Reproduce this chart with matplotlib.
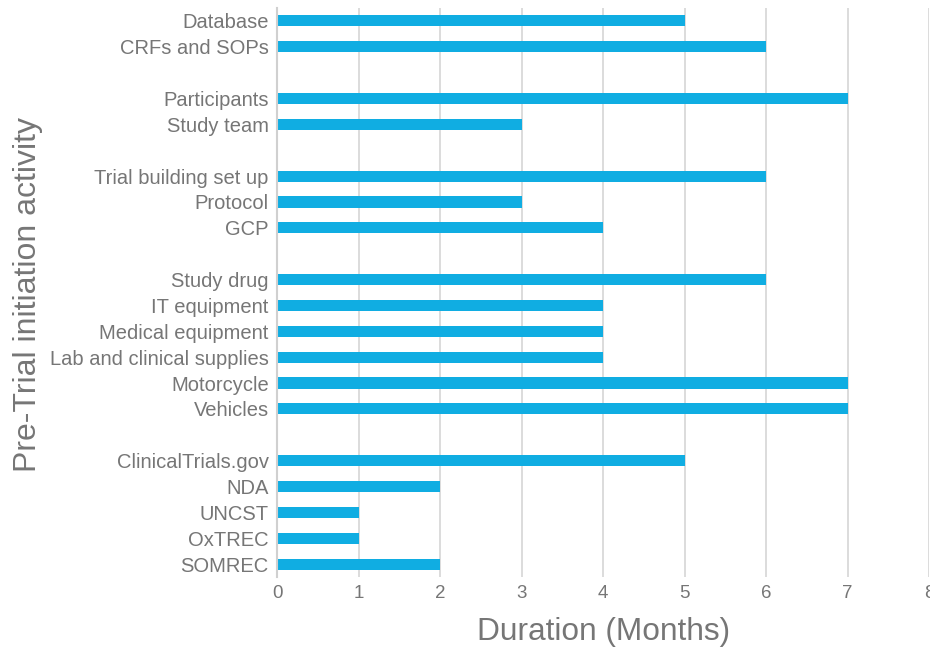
import matplotlib
matplotlib.use("Agg")
import matplotlib.pyplot as plt
from matplotlib import font_manager

# Data (top to bottom, grouped)
group1 = ["Database", "CRFs and SOPs"]
group1_vals = [5, 6]
group2 = ["Participants", "Study team"]
group2_vals = [7, 3]
group3 = ["Trial building set up", "Protocol", "GCP"]
group3_vals = [6, 3, 4]
group4 = ["Study drug", "IT equipment", "Medical equipment",
          "Lab and clinical supplies", "Motorcycle", "Vehicles"]
group4_vals = [6, 4, 4, 4, 7, 7]
group5 = ["ClinicalTrials.gov", "NDA", "UNCST", "OxTREC", "SOMREC"]
group5_vals = [5, 2, 1, 1, 2]
x_ticks = [0, 1, 2, 3, 4, 5, 6, 7, 8]

groups = [(group1, group1_vals), (group2, group2_vals), (group3, group3_vals),
          (group4, group4_vals), (group5, group5_vals)]

labels, values, positions = [], [], []
slot = 0
for gi, (names, vals) in enumerate(groups):
    if gi > 0:
        slot += 1  # blank gap slot
    for n, v in zip(names, vals):
        labels.append(n)
        values.append(v)
        positions.append(slot)
        slot += 1
n_slots = slot

avail = {f.name for f in font_manager.fontManager.ttflist}
main_font = "Liberation Sans" if "Liberation Sans" in avail else "DejaVu Sans"
tick_font = "Liberation Sans Narrow" if "Liberation Sans Narrow" in avail else main_font

text_color = "#767676"
bar_color = "#10ADE2"

fig = plt.figure(figsize=(9.3, 6.5), dpi=100)
ax = fig.add_axes([277 / 930, 1 - 577 / 650, 652 / 930, 569 / 650])

ax.barh(positions, values, height=0.43, color=bar_color, zorder=3)
ax.set_ylim(n_slots - 0.5, -0.5)
ax.set_xlim(0, 8)
ax.set_xticks(x_ticks)
ax.set_xticklabels([str(t) for t in x_ticks], fontsize=13.5, color=text_color,
                   family=tick_font)
ax.set_yticks(positions)
ax.set_yticklabels(labels, fontsize=14.5, color=text_color, family=main_font)
ax.tick_params(axis="both", length=0)
ax.tick_params(axis="y", pad=6)
ax.tick_params(axis="x", pad=6)

ax.grid(axis="x", color="#dcdcdc", linewidth=1.4, zorder=0)
ax.set_axisbelow(True)
for s in ["top", "right", "bottom"]:
    ax.spines[s].set_visible(False)
ax.spines["left"].set_color("#d0d0d0")
ax.spines["left"].set_linewidth(1.5)
ax.spines["left"].set_zorder(4)

fig.text(604 / 930, 1 - 632 / 650, "Duration (Months)", fontsize=22.8,
         color=text_color, family=main_font, ha="center", va="center")
fig.text(28 / 930, 1 - 294 / 650, "Pre-Trial initiation activity", fontsize=23,
         color=text_color, family=main_font, ha="center", va="center",
         rotation=90)

fig.savefig("out.png", dpi=100)
